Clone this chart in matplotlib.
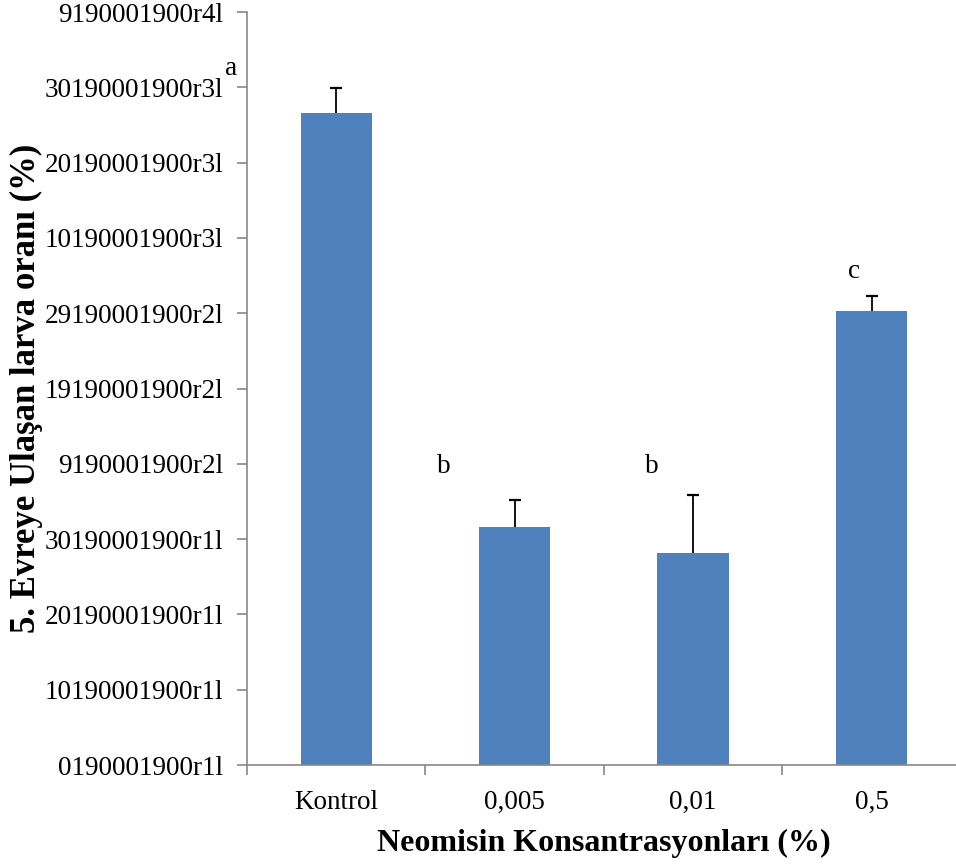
"""
Bar chart: 5. evreye ulasan larva orani vs neomisin konsantrasyonlari.
"""

import matplotlib
matplotlib.use('Agg')
import matplotlib.pyplot as plt
import numpy as np

categories = ["Kontrol", "0,005", "0,01", "0,5"]
values = [8.66, 3.16, 2.82, 6.03]
errors = [0.33, 0.36, 0.76, 0.20]
letters = ["a", "b", "b", "c"]
letter_x = [-0.59, 0.60, 1.77, 2.90]
letter_y = [9.25, 3.97, 3.97, 6.56]
tick_labels = [
    "0190001900r1l", "10190001900r1l", "20190001900r1l", "30190001900r1l",
    "9190001900r2l", "19190001900r2l", "29190001900r2l",
    "10190001900r3l", "20190001900r3l", "30190001900r3l", "9190001900r4l",
]

plt.rcParams['font.family'] = ['Liberation Serif', 'DejaVu Serif']

fig = plt.figure(figsize=(9.56, 8.65), dpi=100)
ax = fig.add_axes([0.2584, 0.1156, 0.7466, 0.8705])

x = np.arange(len(categories))
tops = np.array(values) + np.array(errors)
ax.bar(x, values, width=0.40, color='#4F81BD', zorder=2)
# upper error only, with a cap at the top end
ax.vlines(x, values, tops, color='black', linewidth=1.3, zorder=3)
ax.plot(x, tops, linestyle='none', marker='_', markersize=9,
        markeredgewidth=1.6, color='black', zorder=3)

for lx, ly, s in zip(letter_x, letter_y, letters):
    ax.text(lx, ly, s, fontsize=19.5, ha='center', va='center')

ax.set_xlim(-0.5, 3.5)
ax.set_ylim(0, 10)
ax.set_yticks(np.arange(11))
ax.set_yticklabels(tick_labels, fontsize=19.5)
ax.set_xticks(x)
ax.set_xticklabels(categories, fontsize=19.5)
ax.tick_params(axis='x', length=0, pad=18)
ax.set_xticks(np.arange(-0.5, 3.5, 1.0), minor=True)
ax.tick_params(axis='x', which='minor', length=7, color='#888888', width=1.2)
ax.tick_params(axis='y', length=7, color='#888888', width=1.2, pad=10)

for side in ['top', 'right']:
    ax.spines[side].set_visible(False)
for side in ['left', 'bottom']:
    ax.spines[side].set_color('#888888')
    ax.spines[side].set_linewidth(1.2)

ax.set_xlabel("Neomisin Konsantrasyonları (%)", fontsize=23, fontweight='bold', labelpad=10)
ax.set_ylabel("5. Evreye Ulaşan larva oranı (%)", fontsize=25, fontweight='bold', labelpad=1)

fig.savefig("out.png", dpi=100)
